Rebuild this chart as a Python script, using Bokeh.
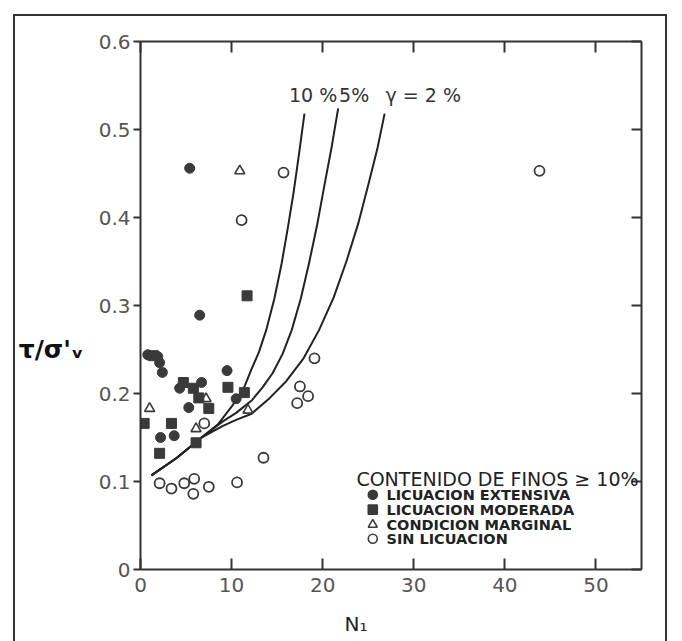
from bokeh.plotting import figure
from bokeh.models import Range1d, LinearAxis, FixedTicker, Label
from bokeh.layouts import column
from bokeh.embed import file_html
from bokeh.resources import INLINE

# ---------------- data ----------------
x_ticks = [0, 10, 20, 30, 40, 50]
x_tick_labels = ["0", "10", "20", "30", "40", "50"]
y_ticks = [0, 0.1, 0.2, 0.3, 0.4, 0.5, 0.6]
y_tick_labels = ["0", "0.1", "0.2", "0.3", "0.4", "0.5", "0.6"]

# Licuacion extensiva (filled circles)
ext_x = [0.8, 1.9, 2.1, 2.4, 4.3, 6.7, 5.3, 9.5, 10.5, 3.7, 2.2, 6.5, 5.4]
ext_y = [0.244, 0.242, 0.235, 0.224, 0.206, 0.2125, 0.184, 0.226, 0.194, 0.152, 0.150, 0.289, 0.456]

# Licuacion moderada (filled squares)
mod_x = [0.4, 2.1, 3.4, 4.7, 5.8, 6.4, 7.5, 6.1, 9.6, 11.4, 11.7, 1.4]
mod_y = [0.166, 0.132, 0.166, 0.2125, 0.206, 0.195, 0.183, 0.144, 0.207, 0.201, 0.311, 0.243]

# Condicion marginal (open triangles)
mar_x = [1.0, 7.2, 6.1, 11.8, 10.9]
mar_y = [0.183, 0.194, 0.160, 0.181, 0.453]

# Sin licuacion (open circles)
sin_x = [2.1, 3.4, 4.8, 5.9, 5.8, 7.5, 10.6, 7.0, 13.5, 17.2, 17.5, 18.4, 19.1, 15.7, 11.1, 43.8]
sin_y = [0.098, 0.092, 0.098, 0.103, 0.086, 0.094, 0.099, 0.166, 0.127, 0.189, 0.208, 0.197, 0.240, 0.451, 0.397, 0.453]

# limiting shear-strain curves
c10_x = [1.2, 4.0, 6.7, 8.5, 10.0, 11.3, 12.2, 13.0, 13.8, 14.7, 15.5, 16.2, 16.8, 17.4, 18.0]
c10_y = [0.107, 0.127, 0.150, 0.165, 0.185, 0.205, 0.228, 0.247, 0.272, 0.308, 0.348, 0.390, 0.428, 0.472, 0.518]
c5_x = [1.2, 4.0, 6.7, 9.0, 10.5, 12.2, 13.4, 14.5, 15.6, 16.6, 17.6, 18.5, 19.4, 20.2, 21.0, 21.7]
c5_y = [0.107, 0.127, 0.150, 0.168, 0.178, 0.192, 0.207, 0.223, 0.245, 0.272, 0.308, 0.348, 0.392, 0.437, 0.481, 0.524]
c2_x = [1.2, 4.0, 6.7, 9.0, 10.5, 12.2, 14.2, 16.0, 17.9, 19.6, 21.2, 22.6, 23.9, 25.0, 26.0, 26.8]
c2_y = [0.107, 0.127, 0.150, 0.163, 0.170, 0.177, 0.195, 0.214, 0.240, 0.272, 0.309, 0.350, 0.393, 0.437, 0.478, 0.518]

curve_labels = ["10 %", "5%", "γ = 2 %"]
legend_title = "CONTENIDO DE FINOS ≥ 10%"
legend_labels = ["LICUACION EXTENSIVA", "LICUACION MODERADA",
                 "CONDICION MARGINAL", "SIN LICUACION"]
x_title = "N₁"
y_title = "τ/σ'ᵥ"

# ---------------- figure ----------------
INK = "#333333"
TICK_FONT = "DejaVu Sans"
NB = "\u00a0"

p = figure(width=650, height=625, output_backend="svg", toolbar_location=None,
           x_range=Range1d(0, 55), y_range=Range1d(0, 0.6),
           min_border_left=124, min_border_right=24, min_border_top=25,
           min_border_bottom=72, background_fill_color="white",
           border_fill_color="white", outline_line_color=None)
p.grid.visible = False

# bottom axis
xa = p.xaxis[0]
xa.ticker = FixedTicker(ticks=x_ticks)
xa.major_label_overrides = {t: l for t, l in zip(x_ticks, x_tick_labels)}
xa.minor_tick_line_color = None
xa.major_tick_in = 11
xa.major_tick_out = 0
xa.major_label_standoff = 8
xa.axis_line_width = 2
xa.axis_line_color = INK
xa.major_tick_line_width = 2
xa.major_tick_line_color = INK
xa.major_label_text_font = TICK_FONT
xa.major_label_text_font_size = "20px"
xa.major_label_text_color = "#555555"

# left axis
ya = p.yaxis[0]
ya.ticker = FixedTicker(ticks=y_ticks)
ya.major_label_overrides = {t: l for t, l in zip(y_ticks, y_tick_labels)}
ya.minor_tick_line_color = None
ya.major_tick_in = 0
ya.major_tick_out = 7
ya.major_label_standoff = 3
ya.axis_line_width = 2
ya.axis_line_color = INK
ya.major_tick_line_width = 2
ya.major_tick_line_color = INK
ya.major_label_text_font = TICK_FONT
ya.major_label_text_font_size = "20px"
ya.major_label_text_color = "#555555"

# top and right axes (ticks only)
top = LinearAxis(ticker=FixedTicker(ticks=x_ticks), major_tick_in=11, major_tick_out=0,
                 minor_tick_line_color=None, major_label_text_color=None,
                 axis_line_width=2, axis_line_color=INK,
                 major_tick_line_width=2, major_tick_line_color=INK)
right = LinearAxis(ticker=FixedTicker(ticks=y_ticks), major_tick_in=10, major_tick_out=0,
                   minor_tick_line_color=None, major_label_text_color=None,
                   axis_line_width=2, axis_line_color=INK,
                   major_tick_line_width=2, major_tick_line_color=INK)
p.add_layout(top, "above")
p.add_layout(right, "right")

# axis titles carried by label-only axes (set off-centre like the original)
xt = LinearAxis(ticker=FixedTicker(ticks=[]),
                axis_line_color=None, major_tick_line_color=None,
                minor_tick_line_color=None, major_label_text_color=None,
                axis_label=x_title + NB * 11, axis_label_standoff=17,
                axis_label_text_font="DejaVu Sans",
                axis_label_text_font_size="20px",
                axis_label_text_font_style="normal",
                axis_label_text_color="#222222")
p.add_layout(xt, "below")
yt = LinearAxis(ticker=FixedTicker(ticks=[]),
                axis_line_color=None, major_tick_line_color=None,
                minor_tick_line_color=None, major_label_text_color=None,
                axis_label=NB + "\n" + NB + "\n" + y_title,
                axis_label_standoff=12,
                axis_label_orientation="horizontal",
                axis_label_text_line_height=1.5,
                axis_label_text_font="DejaVu Sans",
                axis_label_text_font_size="25px",
                axis_label_text_font_style="bold",
                axis_label_text_color="#111111")
p.add_layout(yt, "left")

# curves
for cx, cy in [(c10_x, c10_y), (c5_x, c5_y), (c2_x, c2_y)]:
    p.line(cx, cy, line_color="#222222", line_width=2, line_join="round")

# data points
MK = "#3a3a3a"
p.scatter(ext_x, ext_y, marker="circle", size=10, fill_color=MK, line_color=MK)
p.scatter(mod_x, mod_y, marker="square", size=10, fill_color=MK, line_color=MK)
p.scatter(mar_x, mar_y, marker="triangle", size=10, fill_color=None,
          line_color=MK, line_width=1.6)
p.scatter(sin_x, sin_y, marker="circle", size=10, fill_color=None,
          line_color=MK, line_width=1.8)

# curve labels
for txt, lx in zip(curve_labels, [16.3, 21.8, 26.9]):
    p.add_layout(Label(x=lx, y=0.539, text=txt, text_font=TICK_FONT,
                       text_font_size="19px", text_color=INK,
                       text_baseline="middle", text_align="left"))

# legend (drawn by hand to match the original lettering)
p.add_layout(Label(x=23.7, y=0.103, text=legend_title, text_font="DejaVu Sans",
                   text_font_size="19px", text_color="#222222",
                   text_baseline="middle", text_align="left"))
leg_rows = [0.085, 0.068, 0.051, 0.035]
leg_markers = ["circle", "square", "triangle", "circle"]
leg_fill = [MK, MK, None, None]
for lbl, ry, mk, fc in zip(legend_labels, leg_rows, leg_markers, leg_fill):
    p.scatter([25.5], [ry], marker=mk, size=9, fill_color=fc, line_color=MK,
              line_width=1.6)
    p.add_layout(Label(x=27.0, y=ry, text=lbl, text_font="DejaVu Sans",
                       text_font_size="14.5px", text_font_style="bold",
                       text_color="#222222", text_baseline="middle",
                       text_align="left"))

layout = column(p, styles={"border-left": "2px solid #333",
                           "border-top": "2px solid #333",
                           "border-right": "2px solid #333",
                           "margin-left": "13px", "margin-top": "14px"})

open("out.html", "w").write(file_html(layout, INLINE))
